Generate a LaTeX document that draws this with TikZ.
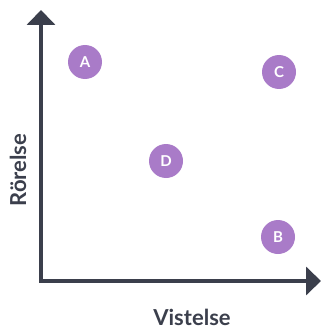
\documentclass[tikz,border=0pt]{standalone}
\usepackage{fontspec}
\setmainfont{Lato}
\usetikzlibrary{arrows.meta}
\definecolor{axisgray}{HTML}{3B3F4C}
\definecolor{dotpurple}{HTML}{A97BC8}
\tikzset{
  axis/.style={draw=axisgray, line width=4pt, line join=miter,
    {Triangle[length=15pt, width=28pt]}-{Triangle[length=15pt, width=28pt]}},
  dot/.style={circle, fill=dotpurple, minimum size=34pt, inner sep=0pt,
    text=white, font=\bfseries\fontsize{15}{15}\selectfont},
  axislabel/.style={text=axisgray, anchor=base, inner sep=1pt,
    font=\bfseries\fontsize{22}{22}\selectfont}
}
\begin{document}
\begin{tikzpicture}[x=1pt, y=-1pt]
    \useasboundingbox (0,0) rectangle (321,329);
    % Axes
    \coordinate (ytip) at (41, 10); \coordinate (origin) at (41, 281); \coordinate (xtip) at (321, 281);
    \draw[axis] (ytip)--(origin)--(xtip);

    % Points
    \node[dot] (A) at (85, 62) {A}; \node[dot] (C) at (279, 72) {C};
    \node[dot] (D) at (166, 161) {D}; \node[dot] (B) at (278, 237) {B};

    % Axis labels
    \node[axislabel, rotate=90] (ylabel) at (26, 170) {Rörelse};
    \node[axislabel] (xlabel) at (192, 325) {Vistelse};
\end{tikzpicture}
\end{document}
